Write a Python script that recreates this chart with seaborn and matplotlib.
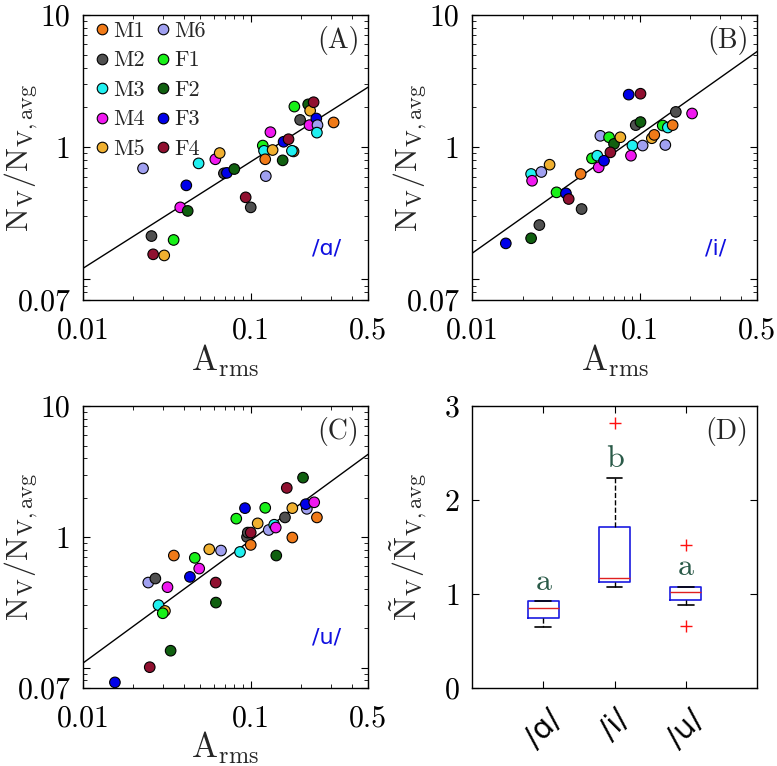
import numpy as np
import matplotlib
matplotlib.use('Agg')
import matplotlib.pyplot as plt
from matplotlib.ticker import LogLocator, NullFormatter
import seaborn as sns

# speakers and their colours
speakers = ['M1', 'M2', 'M3', 'M4', 'M5', 'M6', 'F1', 'F2', 'F3', 'F4']
spk_colors = ['#f07a18', '#505050', '#20f0f0', '#f018f0', '#f0b030',
              '#a0a0f0', '#18f018', '#106010', '#0000e8', '#901030']

# panel A /ɑ/
spk_a = ['M6', 'M2', 'F4', 'M5', 'F1', 'M4', 'F2', 'F3', 'M3', 'M4', 'M5', 'M2', 'F3',
         'F2', 'F4', 'M2', 'F1', 'M3', 'M1', 'M6', 'M4', 'M5', 'F2', 'F3', 'F4', 'M1',
         'M3', 'F1', 'M2', 'F2', 'M5', 'F4', 'M4', 'F3', 'M6', 'M3', 'M1']
arms_a = [0.0228, 0.0256, 0.0262, 0.0305, 0.0347, 0.038, 0.0421, 0.0413, 0.0489, 0.0615,
          0.0653, 0.0692, 0.0721, 0.0798, 0.0933, 0.100, 0.118, 0.120, 0.122, 0.123,
          0.131, 0.135, 0.155, 0.157, 0.168, 0.180, 0.176, 0.182, 0.197, 0.220, 0.226,
          0.237, 0.224, 0.246, 0.250, 0.248, 0.312]
nv_a = [0.692, 0.213, 0.155, 0.152, 0.199, 0.351, 0.330, 0.515, 0.755, 0.811,
        0.904, 0.635, 0.640, 0.684, 0.418, 0.351, 1.03, 0.94, 0.811, 0.605,
        1.30, 0.953, 0.796, 1.10, 1.15, 0.93, 0.94, 2.03, 1.61, 2.11, 1.89,
        2.19, 1.47, 1.65, 1.47, 1.29, 1.54]

# panel B /i/
spk_b = ['F3', 'F2', 'M2', 'M3', 'M4', 'M6', 'M5', 'F1', 'F3', 'F4', 'M2', 'M1', 'F1',
         'M3', 'M4', 'F3', 'M6', 'F1', 'F2', 'F4', 'M5', 'F3', 'F4', 'M3', 'M4', 'M2',
         'F2', 'M6', 'M5', 'M1', 'F1', 'M3', 'M1', 'M6', 'M2', 'M4']
arms_b = [0.0159, 0.0225, 0.0252, 0.0225, 0.0228, 0.0259, 0.029, 0.0319, 0.0363, 0.0377,
          0.045, 0.0444, 0.0519, 0.0558, 0.0569, 0.0612, 0.0582, 0.0656, 0.0702, 0.0668,
          0.0766, 0.0859, 0.101, 0.0904, 0.0886, 0.0946, 0.101, 0.104, 0.118, 0.122,
          0.137, 0.147, 0.157, 0.142, 0.164, 0.205]
nv_b = [0.1875, 0.205, 0.258, 0.628, 0.558, 0.650, 0.738, 0.456, 0.448, 0.406,
        0.341, 0.628, 0.824, 0.863, 0.705, 0.791, 1.22, 1.19, 1.06, 0.915,
        1.19, 2.50, 2.54, 1.03, 0.863, 1.47, 1.55, 1.03, 1.17, 1.24,
        1.46, 1.41, 1.47, 1.04, 1.85, 1.80]

# panel C /u/
spk_c = ['F3', 'F4', 'F2', 'M6', 'M2', 'M4', 'M3', 'M5', 'F1', 'M1', 'F1', 'M4', 'F3',
         'M5', 'M6', 'F4', 'F2', 'F1', 'F3', 'M3', 'M2', 'M2', 'F4', 'M1', 'M5', 'F1',
         'M6', 'M3', 'M4', 'F2', 'M2', 'F4', 'M5', 'M1', 'F2', 'M6', 'F3', 'M4', 'M1']
arms_c = [0.0155, 0.025, 0.0333, 0.0245, 0.027, 0.0319, 0.0282, 0.0308, 0.0299, 0.0348,
          0.0464, 0.0493, 0.0434, 0.0566, 0.0665, 0.0618, 0.062, 0.082, 0.0924, 0.0863,
          0.095, 0.096, 0.100, 0.100, 0.110, 0.122, 0.128, 0.138, 0.141, 0.142,
          0.160, 0.164, 0.177, 0.177, 0.205, 0.216, 0.213, 0.239, 0.248]
nv_c = [0.0773, 0.101, 0.135, 0.448, 0.481, 0.413, 0.301, 0.272, 0.261, 0.721,
        0.692, 0.573, 0.495, 0.805, 0.787, 0.448, 0.315, 1.38, 1.66, 0.768,
        1.00, 1.08, 1.08, 0.869, 1.27, 1.67, 1.13, 1.24, 1.18, 0.721,
        1.41, 2.37, 1.66, 0.99, 2.84, 1.64, 1.78, 1.84, 1.41]

# power-law fits N = c * A^k
fit_a = (4.97, 0.806)
fit_b = (9.86, 0.898)
fit_c = (8.20, 0.939)

# panel D box plot statistics
vowels = ['/ɑ/', '/i/', '/u/']
box_q1 = [0.744, 1.126, 0.935]
box_med = [0.850, 1.169, 1.020]
box_q3 = [0.921, 1.718, 1.073]
whis_lo = [0.645, 1.070, 0.882]
whis_hi = [0.930, 2.232, 1.080]
box_fliers = [[], [2.816], [1.523, 0.655]]
group_letters = ['a', 'b', 'a']
letter_y = [1.045, 2.356, 1.204]

sns.set_style('ticks')
plt.rcParams['font.family'] = 'serif'
plt.rcParams['font.serif'] = ['cmr10']
plt.rcParams['mathtext.fontset'] = 'cm'
plt.rcParams['axes.formatter.use_mathtext'] = True
plt.rcParams['axes.linewidth'] = 1.0
plt.rcParams['axes.edgecolor'] = 'black'

fig = plt.figure(figsize=(7.77, 7.66), dpi=100)
ax_a = fig.add_axes([0.1068, 0.6084, 0.3668, 0.372])
ax_b = fig.add_axes([0.6075, 0.6084, 0.3668, 0.372])
ax_c = fig.add_axes([0.1068, 0.1018, 0.3668, 0.368])
ax_d = fig.add_axes([0.6075, 0.1018, 0.3668, 0.368])

palette = dict(zip(speakers, spk_colors))


def style_ticks(ax):
    ax.tick_params(which='both', direction='in', top=True, right=True, colors='black')
    ax.tick_params(which='major', length=5, width=0.8)
    ax.tick_params(which='minor', length=3, width=0.6)
    ax.tick_params(axis='x', which='major', pad=12, labelsize=21.5)
    ax.tick_params(axis='y', which='major', pad=9, labelsize=21.5)


def scatter_panel(ax, spk, arms, nv, fit, tag, vowel, show_legend):
    sns.scatterplot(x=arms, y=nv, hue=spk, hue_order=speakers, palette=palette,
                    s=58, edgecolor='black', linewidth=0.8, alpha=1,
                    legend=show_legend, ax=ax, zorder=3)
    xs = np.array([0.01, 0.5])
    ax.plot(xs, fit[0] * xs ** fit[1], color='black', lw=1.0, zorder=2)
    ax.set_xscale('log')
    ax.set_yscale('log')
    ax.set_xlim(0.01, 0.5)
    ax.set_ylim(0.07, 10)
    ax.set_xticks([0.01, 0.1, 0.5], labels=['0.01', '0.1', '0.5'])
    ax.set_yticks([0.07, 0.1, 1, 10], labels=['0.07', '', '1', '10'])
    ax.xaxis.set_minor_locator(LogLocator(subs=np.arange(2, 10)))
    ax.yaxis.set_minor_locator(LogLocator(subs=np.arange(2, 10)))
    ax.xaxis.set_minor_formatter(NullFormatter())
    ax.yaxis.set_minor_formatter(NullFormatter())
    style_ticks(ax)
    ax.set_xlabel(r'$\mathrm{A_{rms}}$', fontsize=25)
    ax.set_ylabel(r'$\mathrm{N_V/N_{V,avg}}$', fontsize=23)
    ax.xaxis.set_label_coords(0.5, -0.15)
    ax.yaxis.set_label_coords(-0.15, 0.5)
    ax.text(0.97, 0.96, tag, transform=ax.transAxes, ha='right', va='top', fontsize=20)
    ax.text(0.855, 0.18, vowel, transform=ax.transAxes, ha='center', va='center',
            fontsize=16, color='#1010e0', family='DejaVu Sans')
    for s in ax.spines.values():
        s.set_visible(True)


scatter_panel(ax_a, spk_a, arms_a, nv_a, fit_a, '(A)', '/ɑ/', True)
scatter_panel(ax_b, spk_b, arms_b, nv_b, fit_b, '(B)', '/i/', False)
scatter_panel(ax_c, spk_c, arms_c, nv_c, fit_c, '(C)', '/u/', False)

sns.move_legend(ax_a, 'upper left', ncol=2, frameon=False, fontsize=16, title=None,
                bbox_to_anchor=(-0.012, 1.025), handlelength=0.8, handletextpad=0.1,
                columnspacing=0.45, labelspacing=0.45, borderaxespad=0.2)

# panel D
stats = []
for i in range(len(vowels)):
    stats.append({'q1': box_q1[i], 'med': box_med[i], 'q3': box_q3[i],
                  'whislo': whis_lo[i], 'whishi': whis_hi[i], 'fliers': box_fliers[i]})
pos = np.arange(1, len(vowels) + 1)
ax_d.bxp(stats, positions=pos, widths=0.44, capwidths=0.22, showfliers=True,
         boxprops=dict(color='#1a1ae0', lw=1.2),
         medianprops=dict(color='#e02020', lw=1.0),
         whiskerprops=dict(color='black', lw=1.0, ls='--'),
         capprops=dict(color='black', lw=1.2),
         flierprops=dict(marker='+', markeredgecolor='#ff1010', markersize=8, lw=0))
for i in range(len(vowels)):
    ax_d.text(pos[i], letter_y[i], group_letters[i], ha='center', va='baseline',
              fontsize=23, color='#2a5a48')
ax_d.set_xlim(0, 4)
ax_d.set_ylim(0, 3)
ax_d.set_yticks([0, 1, 2, 3])
ax_d.set_xticks(pos)
ax_d.set_xticklabels(vowels, rotation=45, family='DejaVu Sans', fontsize=20)
style_ticks(ax_d)
ax_d.tick_params(axis='x', pad=12)
ax_d.set_ylabel(r'$\mathrm{\tilde{N}_V/\tilde{N}_{V,avg}}$', fontsize=23)
ax_d.yaxis.set_label_coords(-0.15, 0.5)
ax_d.text(0.97, 0.96, '(D)', transform=ax_d.transAxes, ha='right', va='top', fontsize=20)

fig.savefig('out.png', dpi=100)
